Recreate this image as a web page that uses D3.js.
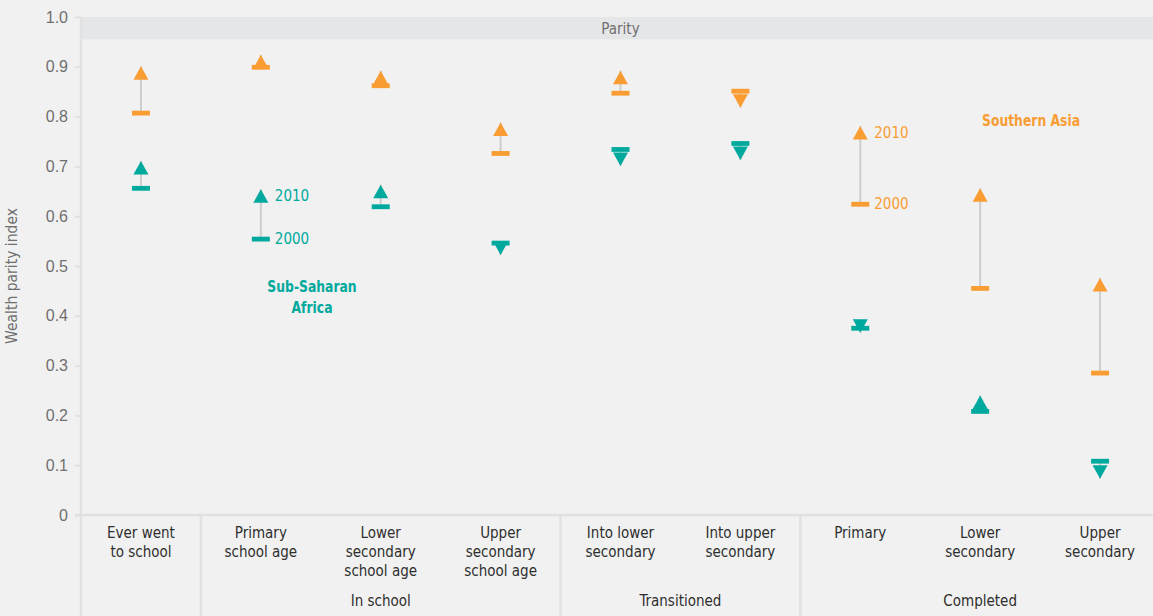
<!DOCTYPE html>
<html>
<head>
<meta charset="utf-8">
<script src="https://cdn.jsdelivr.net/npm/d3@7"></script>
<style>
  html, body { margin: 0; padding: 0; background: #f1f1f1; }
  svg { display: block; font-family: "DejaVu Sans Condensed", "DejaVu Sans", sans-serif; }
</style>
</head>
<body>
<svg id="chart" width="1153" height="616"></svg>
<script>
// Education indicators (x axis), each label split over lines with "\n"
const categories = [
  "Ever went\nto school",
  "Primary\nschool age",
  "Lower\nsecondary\nschool age",
  "Upper\nsecondary\nschool age",
  "Into lower\nsecondary",
  "Into upper\nsecondary",
  "Primary",
  "Lower\nsecondary",
  "Upper\nsecondary"
];
// Group each indicator belongs to
const groups = ["", "In school", "In school", "In school", "Transitioned", "Transitioned", "Completed", "Completed", "Completed"];

// Wealth parity index, Sub-Saharan Africa
const ssa2000 = [0.656, 0.554, 0.619, 0.546, 0.734, 0.746, 0.375, 0.208, 0.108];
const ssa2010 = [0.711, 0.654, 0.663, 0.522, 0.701, 0.713, 0.366, 0.240, 0.073];
// Wealth parity index, Southern Asia
const sa2000 = [0.807, 0.899, 0.862, 0.726, 0.847, 0.851, 0.624, 0.455, 0.285];
const sa2010 = [0.901, 0.924, 0.892, 0.788, 0.892, 0.818, 0.781, 0.656, 0.476];

const yTicks = [0, 0.1, 0.2, 0.3, 0.4, 0.5, 0.6, 0.7, 0.8, 0.9, 1.0];

const TEAL = "#00a99d";
const ORANGE = "#f99d33";
const GRID = "#e1e1e1";
const MUTED = "#6f6f6f";
const INK = "#2e2e2e";

const svg = d3.select("#chart");
const W = 1153, H = 616;

const x = d3.scaleBand().domain(categories).range([81, 1160]);
const y = d3.scaleLinear().domain([0, 1]).range([515, 17]);
const cx = c => x(c) + x.bandwidth() / 2;

svg.append("rect").attr("width", W).attr("height", H).attr("fill", "#f1f1f1");

// Parity band along the top of the plot
svg.append("rect")
  .attr("x", x.range()[0]).attr("y", y(1))
  .attr("width", W - x.range()[0]).attr("height", y(0.955) - y(1))
  .attr("fill", "#e5e6e8");
svg.append("text")
  .attr("x", (x.range()[0] + x.range()[1]) / 2).attr("y", y(1) + 17)
  .attr("text-anchor", "middle").attr("font-size", 15).attr("fill", MUTED)
  .text("Parity");

// Y axis
const yAxis = svg.append("g")
  .attr("transform", `translate(${x.range()[0]},0)`)
  .call(d3.axisLeft(y).tickValues(yTicks).tickSize(6).tickPadding(7)
    .tickFormat(d => d === 0 ? "0" : d3.format(".1f")(d)));
yAxis.select(".domain").remove();
yAxis.selectAll(".tick line").attr("stroke", GRID).attr("stroke-width", 2);
yAxis.selectAll(".tick text").attr("font-size", 16).attr("fill", MUTED)
  .attr("font-family", null);
svg.append("line")
  .attr("x1", x.range()[0]).attr("x2", x.range()[0])
  .attr("y1", y(1)).attr("y2", H)
  .attr("stroke", GRID).attr("stroke-width", 2.5);

svg.append("text")
  .attr("transform", `translate(17,${(y(0) + y(1)) / 2 + 10}) rotate(-90)`)
  .attr("text-anchor", "middle").attr("font-size", 15.5).attr("fill", MUTED)
  .text("Wealth parity index");

// X axis baseline
const xAxis = svg.append("g")
  .attr("transform", `translate(0,${y(0)})`)
  .call(d3.axisBottom(x).tickSize(0).tickFormat(""));
xAxis.select(".domain").attr("stroke", GRID).attr("stroke-width", 2.5)
  .attr("d", `M${x.range()[0] - 6},0H${W}`);

// Category labels
categories.forEach(c => {
  const t = svg.append("text")
    .attr("text-anchor", "middle").attr("font-size", 15).attr("fill", INK);
  c.split("\n").forEach((line, i) => {
    t.append("tspan").attr("x", cx(c)).attr("y", 538 + i * 19).text(line);
  });
});

// Group separators and group labels
const groupNames = [...new Set(groups)];
groupNames.forEach(g => {
  const members = categories.filter((c, i) => groups[i] === g);
  const x0 = x(members[0]);
  const x1 = x(members[members.length - 1]) + x.bandwidth();
  if (x0 > x.range()[0]) {
    svg.append("line")
      .attr("x1", x0).attr("x2", x0).attr("y1", y(0)).attr("y2", H)
      .attr("stroke", GRID).attr("stroke-width", 2.5);
  }
  if (g) {
    svg.append("text")
      .attr("x", (x0 + x1) / 2).attr("y", 606)
      .attr("text-anchor", "middle").attr("font-size", 15).attr("fill", INK)
      .text(g);
  }
});

// Change markers: stem from 2000 to 2010, bar for 2000, triangle for 2010
const TRI_W = 15, TRI_H = 13.5, BAR_W = 18, BAR_H = 4.8;
function drawSeries(v2000, v2010, color) {
  const rows = categories.map((c, i) => ({ c, a: v2000[i], b: v2010[i] }));
  const g = svg.append("g");
  g.selectAll(".stem").data(rows).join("line")
    .attr("x1", d => cx(d.c)).attr("x2", d => cx(d.c))
    .attr("y1", d => y(d.a)).attr("y2", d => y(d.b))
    .attr("stroke", "#cdcdcd").attr("stroke-width", 2);
  g.selectAll(".tri").data(rows).join("path")
    .attr("fill", color)
    .attr("d", d => {
      const px = cx(d.c), py = y(d.b);
      const h = d.b >= d.a ? TRI_H : -TRI_H;
      return `M${px},${py}L${px - TRI_W / 2},${py + h}L${px + TRI_W / 2},${py + h}Z`;
    });
  g.selectAll(".bar").data(rows).join("rect")
    .attr("fill", color)
    .attr("x", d => cx(d.c) - BAR_W / 2).attr("y", d => y(d.a) - BAR_H / 2)
    .attr("width", BAR_W).attr("height", BAR_H);
  return rows;
}
drawSeries(ssa2000, ssa2010, TEAL);
drawSeries(sa2000, sa2010, ORANGE);

// Year annotations next to one marker of each region
function yearLabels(ci, v2000, v2010, color) {
  const c = categories[ci];
  svg.append("text").attr("x", cx(c) + 14).attr("y", y(v2010[ci]) + TRI_H / 2)
    .attr("dy", "0.35em").attr("font-size", 15).attr("fill", color).text("2010");
  svg.append("text").attr("x", cx(c) + 14).attr("y", y(v2000[ci]))
    .attr("dy", "0.35em").attr("font-size", 15).attr("fill", color).text("2000");
}
yearLabels(1, ssa2000, ssa2010, TEAL);
yearLabels(6, sa2000, sa2010, ORANGE);

// Region names, set in a narrowed bold face
const ssaLabel = svg.append("text").attr("text-anchor", "middle")
  .attr("transform", "translate(312,0) scale(0.86,1)")
  .attr("font-size", 16).attr("font-weight", "bold").attr("fill", TEAL);
ssaLabel.append("tspan").attr("x", 0).attr("y", 292).text("Sub-Saharan");
ssaLabel.append("tspan").attr("x", 0).attr("y", 313).text("Africa");
svg.append("text").attr("text-anchor", "middle")
  .attr("transform", "translate(1031,126) scale(0.86,1)")
  .attr("font-size", 16).attr("font-weight", "bold").attr("fill", ORANGE)
  .text("Southern Asia");
</script>
</body>
</html>
